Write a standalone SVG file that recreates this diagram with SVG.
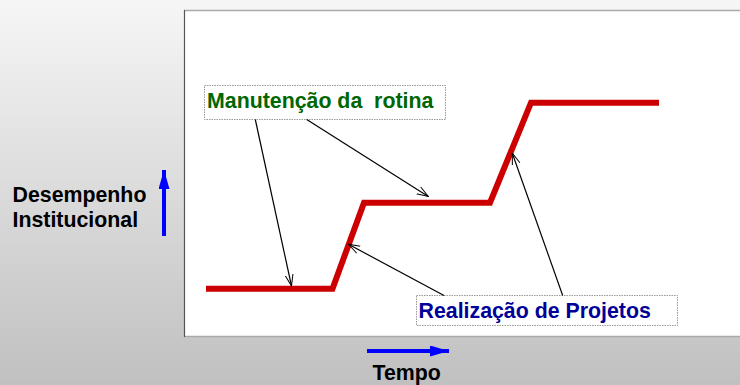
<svg xmlns="http://www.w3.org/2000/svg" width="740" height="385" viewBox="0 0 740 385">
<defs>
<linearGradient id="bg" x1="0" y1="0" x2="0" y2="1">
<stop offset="0" stop-color="#f6f6f6"/>
<stop offset="1" stop-color="#c0c0c0"/>
</linearGradient>
<marker id="open" viewBox="0 0 12 10" refX="11.5" refY="5" markerWidth="12" markerHeight="10" markerUnits="userSpaceOnUse" orient="auto">
<path d="M0,1 L11.5,5 L0,9" fill="none" stroke="#000" stroke-width="1"/>
</marker>
<marker id="blue" viewBox="0 0 19 11" refX="19" refY="5.5" markerWidth="19" markerHeight="11" markerUnits="userSpaceOnUse" orient="auto">
<path d="M0,0 L19,5.5 L0,11 Z" fill="#0000ff"/>
</marker>
</defs>
<style>
text{font-family:"Liberation Sans",Arial,sans-serif;font-weight:bold;font-size:21.33px;white-space:pre}
.lbl{fill:#000}
.box{fill:#fff;stroke:#999;stroke-width:1;stroke-dasharray:1.5,1}
.conn{fill:none;stroke:#000;stroke-width:1.2;marker-end:url(#open)}
.axis{fill:none;stroke:#0000ff;stroke-width:4}
</style>
<rect x="0" y="0" width="740" height="385" fill="url(#bg)"/>
<g id="panel">
<rect x="184.5" y="10.5" width="560" height="326" fill="#fff"/>
<line x1="184" y1="10.5" x2="740" y2="10.5" stroke="#aaa" stroke-width="1.5"/>
<line x1="184" y1="336.5" x2="740" y2="336.5" stroke="#aaa" stroke-width="1.5"/>
<line x1="184.5" y1="10" x2="184.5" y2="337" stroke="#555" stroke-width="1.2"/>
</g>
<g id="curve">
<polyline points="206,288.7 332.5,288.7 364,202.7 490,202.7 531,102.7 659,102.7" fill="none" stroke="#cc0000" stroke-width="6" stroke-linejoin="miter"/>
</g>
<g id="ylabel">
<text class="lbl" x="12.5" y="201.5">Desempenho</text>
<text class="lbl" x="12.5" y="226.5">Institucional</text>
<line class="axis" x1="164" y1="236" x2="164" y2="170" marker-end="url(#blue)"/>
</g>
<g id="xlabel">
<text class="lbl" x="372.5" y="380">Tempo</text>
<line class="axis" x1="367" y1="351" x2="449" y2="351" marker-end="url(#blue)"/>
</g>
<g id="manutencao">
<rect class="box" x="204.5" y="85.5" width="241" height="34"/>
<text x="207" y="108" fill="#006600" xml:space="preserve">Manutenção da  rotina</text>
</g>
<g id="realizacao">
<rect class="box" x="416.5" y="295.5" width="261" height="30"/>
<text x="418.5" y="317.5" fill="#000099">Realização de Projetos</text>
</g>
<g id="connectors">
<line class="conn" x1="255.3" y1="119.5" x2="291.5" y2="286"/>
<line class="conn" x1="306.7" y1="119.5" x2="428.3" y2="196.5"/>
<line class="conn" x1="444" y1="295.5" x2="348.5" y2="244.3"/>
<line class="conn" x1="562.7" y1="295.5" x2="512.3" y2="153.3"/>
</g>
</svg>
